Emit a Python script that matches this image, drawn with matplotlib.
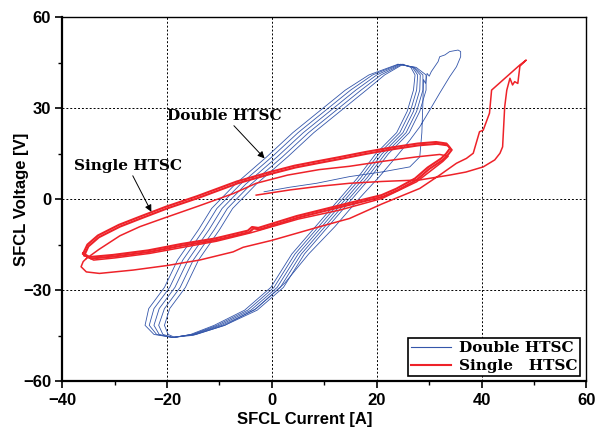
import matplotlib
matplotlib.use('Agg')
import matplotlib.pyplot as plt
from matplotlib.ticker import MultipleLocator

# ---- data (current [A], voltage [V]) ----
# voltage levels shared by the steady blue loops (right branch down, left branch up)
blue_v = [44.5, 43.5, 41, 36, 29, 22, 15, 7, 0, -9, -18, -29, -36.5, -41.5, -44.5, -45.5,
          -44.5, -41.5, -36, -29, -20, -10, -3, 5, 14, 22, 29, 36, 41, 44.5]
blue_loop1 = [24, 27.5, 29.4, 29.4, 28.2, 26.2, 22.2, 18.7, 15.2, 10.7, 6.2, 2.2, -2.8, -9, -14.5, -19,
              -22.5, -24.2, -23.5, -20.5, -18, -14, -11.5, -7, -1, 4, 9, 14, 18.5, 24]
blue_loop2 = [24.2, 27.2, 28.8, 28.8, 27.6, 25.6, 21.6, 18.1, 14.6, 10.1, 5.6, 1.6, -3.4, -9.5, -14.8, -19,
              -22, -23.4, -22.5, -19.5, -17, -13, -10.5, -6, 0, 5, 10, 15, 19.2, 24.2]
blue_loop3 = [24.5, 27, 28.3, 28.2, 27, 25, 21, 17.5, 14, 9.5, 5, 1, -4, -10, -15, -19,
              -21.5, -22.5, -21.5, -18.5, -16, -12, -9.5, -5, 1, 6, 11, 16, 20, 24.5]
blue_loop4 = [24.8, 26.8, 27.8, 27.6, 26.4, 24.4, 20.4, 16.9, 13.4, 8.9, 4.4, 0.4, -4.6, -10.5, -15.2, -18.8,
              -20.8, -21.6, -20.5, -17.5, -15, -11, -8.5, -4, 2, 7, 12, 17, 20.8, 24.8]
blue_loop5 = [25, 26.5, 27.3, 27, 25.8, 23.8, 19.8, 16.3, 12.8, 8.3, 3.8, -0.2, -5.2, -11, -15.5, -18.5,
              -19.8, -20.5, -19.5, -16.5, -14, -10, -7.5, -3, 3, 8, 13, 18, 21.5, 25]

# first blue cycle: fault onset, peak and first return
blue_fault_i = [-1.5, 3.4, 8.5, 14.8, 21.2, 26.3, 28.2, 28.6, 28.8, 28.9, 29.3, 29.6, 30, 30.4, 31.7,
                32, 33, 33.9, 35.5, 36, 36, 35.2, 33.9, 32, 30.1, 28.2, 26.3, 23.7, 20.5, 16.5,
                12, 7, 2.5, -3, -9, -15, -19]
blue_fault_v = [2.5, 4, 5.3, 7.5, 9.1, 10.7, 14, 22, 32, 39.5, 38.2, 41.5, 40.6, 42.1, 45.4,
                47, 47.6, 48.7, 49.2, 48.7, 47, 43.7, 40.4, 35, 29.4, 23.9, 19.5, 14, 7.5, 0,
                -9, -18, -27.5, -36, -41.5, -44.8, -45.5]

# first red cycle: fault onset, peak and the wide first return
red_fault_i = [-3, 3.4, 9, 14.8, 21, 28.2, 33.9, 37, 40.3, 42.5, 43.5, 44, 44.4, 44.8, 45.4, 45.9,
               46.3, 46.9, 47.3, 48.5, 47.3, 41.9, 41.5, 40.3, 39.6, 38.4, 37.1, 35.2, 32, 28.2,
               21, 14.8, 9.1, 0, -5.5, -7.4, -13.8, -20, -26.5, -32.9, -35.4, -36.4, -36, -35.4]
red_fault_v = [1.4, 3.1, 4.3, 5.3, 5.9, 6.4, 8, 9, 10.7, 13, 15.2, 17.3, 30.5, 36, 39.9, 37.7,
               38.8, 38.2, 43.9, 45.9, 44.3, 36, 28.4, 22.8, 22.3, 15.2, 13.5, 11.9, 8, 3.6,
               -1.5, -6.3, -9, -13.5, -15.8, -17.3, -20, -21.8, -23.3, -24.4, -23.9, -22.2, -20.5, -19.5]

# second red cycle (thin inner upper branch)
red_loop1_i = [-35.4, -33, -29, -25.2, -20.8, -14, -7.4, -3, 3, 9, 14.8, 21, 27.6, 32, 33.6, 32.6,
               27.6, 21, 13, 5, -4, -10.6, -17, -23.3, -30, -34, -35.8]
red_loop1_v = [-19.5, -16.5, -12, -9, -6.3, -2.2, 1.9, 5.3, 8, 9.8, 10.9, 12.5, 14, 14.8, 14.2, 12.5,
               5.8, 0.3, -3.5, -6.5, -11, -13.8, -15.8, -17.8, -19.3, -20, -18.5]

# steady red loops (thick band)
red_loop2_i = [-35.8, -35, -33, -29, -25, -20, -14, -6.5, 0, 4.5, 9, 13, 18, 23, 28, 31.5, 33.5, 34.3,
               33.5, 32.6, 30, 27.6, 24, 21.2, 14.8, 5, -2.3, -3.5, -4.3, -10.6, -17, -23.3, -30, -34.5, -36]
red_loop2_v = [-18.5, -15.5, -12.5, -9, -6.3, -3, 0.5, 5.3, 8.5, 10.5, 12, 13.3, 15, 16.5, 17.8, 18.3, 17.8, 16.3,
               14.5, 13, 10, 6.4, 3, 0.9, -1.8, -6, -9.9, -9.6, -10.8, -13.4, -15.2, -17.3, -18.8, -19.5, -18]
red_loop3_i = [-36, -35.2, -33.2, -29.2, -25.2, -20.2, -14.2, -6.7, -0.2, 4.3, 8.8, 12.8, 17.8, 22.8, 27.8, 31.3,
               33.3, 34, 33.2, 32.3, 29.7, 27.3, 23.7, 20.9, 14.5, 4.7, -2.6, -3.8, -4.6, -10.9, -17.3, -23.6,
               -30.3, -34.8, -36]
red_loop3_v = [-17.8, -14.9, -11.9, -8.4, -5.7, -2.4, 1.1, 5.9, 9.1, 11.1, 12.6, 13.9, 15.6, 17.1, 18.4, 18.9,
               18.4, 16.9, 15, 13.5, 10.5, 6.9, 3.5, 1.4, -1.3, -5.5, -9.4, -9.1, -10.3, -12.9, -14.7, -16.8,
               -18.3, -19, -17.8]

x_ticks = [-40, -20, 0, 20, 40, 60]
y_ticks = [-60, -30, 0, 30, 60]
legend_labels = ['Double HTSC', 'Single   HTSC']

blue = '#3456aa'
red = '#ee2229'
serif = ['DejaVu Serif']

fig = plt.figure(figsize=(6.04, 4.32), dpi=100)
ax = fig.add_axes([0.103, 0.117, 0.868, 0.843])

# blue (double HTSC) traces
ax.plot(blue_fault_i, blue_fault_v, color=blue, lw=0.6)
for loop in [blue_loop1, blue_loop2, blue_loop3, blue_loop4, blue_loop5]:
    ax.plot(loop, blue_v, color=blue, lw=0.6)

# red (single HTSC) traces
ax.plot(red_fault_i, red_fault_v, color=red, lw=1.1)
ax.plot(red_loop1_i, red_loop1_v, color=red, lw=1.1)
ax.plot(red_loop2_i, red_loop2_v, color=red, lw=1.5)
ax.plot(red_loop3_i, red_loop3_v, color=red, lw=1.5)

ax.set_xlim(-40, 60)
ax.set_ylim(-60, 60)
ax.set_xticks(x_ticks)
ax.set_yticks(y_ticks)
ax.xaxis.set_minor_locator(MultipleLocator(10))
ax.yaxis.set_minor_locator(MultipleLocator(15))
ax.grid(True, which='major', color='black', linestyle=(0, (2, 2)), lw=0.7)
ax.set_axisbelow(True)

ax.tick_params(which='major', direction='out', length=5, width=1.2, pad=3,
               top=False, right=False)
ax.tick_params(which='minor', direction='out', length=3, width=1.0, top=False, right=False)
for lab in ax.get_xticklabels() + ax.get_yticklabels():
    lab.set_fontfamily('Liberation Sans')
    lab.set_fontweight('bold')
    lab.set_fontsize(12)

for side in ['left', 'bottom']:
    ax.spines[side].set_linewidth(1.6)
for side in ['top', 'right']:
    ax.spines[side].set_linewidth(1.0)

ax.set_xlabel('SFCL Current [A]', fontfamily='Liberation Sans', fontweight='bold', fontsize=12)
ax.set_ylabel('SFCL Voltage [V]', fontfamily='Liberation Sans', fontweight='bold', fontsize=12)
ax.xaxis.set_label_coords(0.463, -0.083)
ax.yaxis.set_label_coords(-0.064, 0.5)

# arrows with labels
arrow = dict(arrowstyle='-|>', color='black', lw=0.7, mutation_scale=10, shrinkA=0, shrinkB=0)
ax.annotate('Double HTSC', xy=(-1.4, 13.5), xytext=(-9, 27.5), ha='center', va='center',
            fontfamily=serif, fontweight='bold', fontsize=11, arrowprops=arrow)
ax.annotate('Single HTSC', xy=(-23, -4.1), xytext=(-27.5, 11), ha='center', va='center',
            fontfamily=serif, fontweight='bold', fontsize=11, arrowprops=arrow)

h1, = ax.plot([], [], color=blue, lw=0.8)
h2, = ax.plot([], [], color=red, lw=1.5)
leg = ax.legend([h1, h2], legend_labels, loc='lower right', bbox_to_anchor=(0.988, 0.0146),
                prop={'family': serif, 'weight': 'bold', 'size': 11}, frameon=True,
                fancybox=False, edgecolor='black', framealpha=1, borderaxespad=0,
                handlelength=2.6, handletextpad=0.5, labelspacing=0.25, borderpad=0.2)
leg.get_frame().set_linewidth(1.2)

fig.savefig('out.png', dpi=100)
